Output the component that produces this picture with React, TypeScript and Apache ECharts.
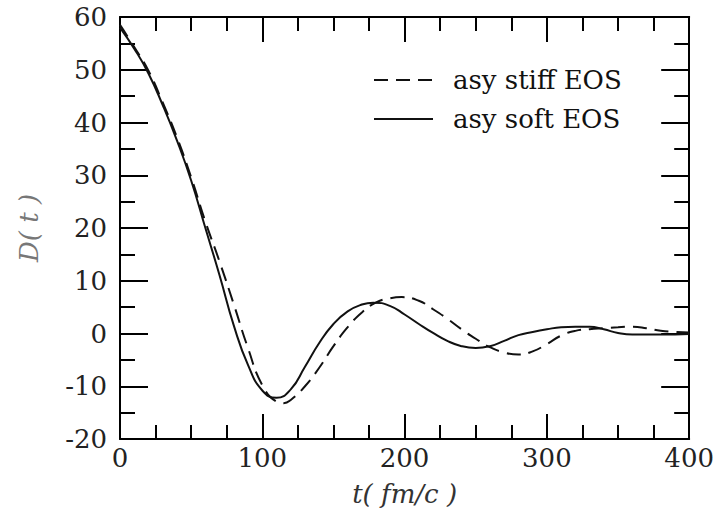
import React, { useEffect, useRef } from "react";
import * as echarts from "echarts";

const tStiff = [0, 10, 20, 30, 40, 50, 60, 70, 80, 90, 100, 110, 115, 120, 130, 140, 150, 160, 170, 180, 190, 198, 210, 220, 230, 240, 250, 260, 270, 280, 290, 300, 310, 320, 330, 340, 350, 360, 370, 380, 390, 400];
const dStiff = [58.5, 54.3, 49.8, 43.8, 37.2, 29.6, 21.2, 13.6, 5.5, -2.8, -9.8, -12.9, -13.2, -12.6, -10, -6.5, -2.4, 1.2, 4, 5.9, 6.7, 6.9, 6.2, 4.6, 2.8, 0.8, -1.0, -2.6, -3.6, -4.0, -3.4, -2.0, -0.4, 0.5, 0.8, 1.0, 1.2, 1.3, 1.0, 0.5, 0.3, 0.2];

const tSoft = [0, 10, 20, 30, 40, 50, 60, 70, 80, 90, 100, 110, 120, 130, 140, 150, 160, 170, 178, 190, 200, 210, 220, 230, 240, 250, 260, 270, 280, 290, 300, 310, 320, 330, 340, 350, 360, 380, 400];
const dSoft = [58, 54, 49.3, 43.3, 36.6, 29, 20, 11, 1.5, -6, -10.8, -12.2, -10.6, -6.3, -1.8, 1.8, 4.2, 5.5, 5.85, 5.2, 3.6, 1.8, 0.1, -1.4, -2.4, -2.75, -2.4, -1.4, -0.3, 0.3, 0.8, 1.2, 1.3, 1.3, 0.8, 0.1, -0.2, -0.2, -0.1];

const seriesNames = ["asy stiff EOS", "asy soft EOS"];
const xTitle = "t( fm/c )";
const yTitle = "D( t )";

const FONT = "DejaVu Serif";

export default function App() {
  const ref = useRef<HTMLDivElement>(null);
  useEffect(() => {
    if (!ref.current) return;
    const chart = echarts.init(ref.current, undefined, { renderer: "svg" });
    const axisLine = { show: true, onZero: false, lineStyle: { color: "#000", width: 2 } };
    const baseX = {
      type: "value",
      min: 0,
      max: 400,
      interval: 100,
      splitLine: { show: false },
      axisLine,
      axisTick: { show: true, inside: true, length: 25, lineStyle: { color: "#000", width: 2 } },
      minorTick: { show: true, splitNumber: 4, length: 14, lineStyle: { color: "#000", width: 2 } },
    };
    const baseY = {
      type: "value",
      min: -20,
      max: 60,
      interval: 10,
      splitLine: { show: false },
      axisLine,
      axisTick: { show: true, inside: true, length: 28, lineStyle: { color: "#000", width: 2 } },
      minorTick: { show: true, splitNumber: 2, length: 15, lineStyle: { color: "#000", width: 2 } },
    };
    const pairs = (ts: number[], ds: number[]) => ts.map((t, i) => [t, ds[i]]);
    chart.setOption({
      animation: false,
      backgroundColor: "#fff",
      grid: { left: 120, right: 27, top: 17, bottom: 71 },
      legend: {
        orient: "vertical",
        left: 368,
        top: 62,
        itemWidth: 59,
        itemHeight: 20,
        itemGap: 13,
        data: seriesNames,
        itemStyle: { opacity: 0 },
        textStyle: { fontFamily: FONT, fontSize: 26, color: "#111", lineHeight: 26, padding: [0, 0, 0, 15] },
      },
      xAxis: [
        {
          ...baseX,
          position: "bottom",
          axisLabel: { fontFamily: FONT, fontSize: 26, color: "#222", margin: 6 },
          name: xTitle,
          nameLocation: "middle",
          nameGap: 42,
          nameTextStyle: { fontFamily: FONT, fontSize: 26, fontStyle: "italic", color: "#333" },
        },
        { ...baseX, position: "top", axisLabel: { show: false } },
      ],
      yAxis: [
        {
          ...baseY,
          position: "left",
          axisLabel: { fontFamily: FONT, fontSize: 26, color: "#222", margin: 13 },
          name: yTitle,
          nameLocation: "middle",
          nameGap: 78,
          nameTextStyle: { fontFamily: FONT, fontSize: 26, fontStyle: "italic", color: "#777" },
        },
        { ...baseY, position: "right", axisLabel: { show: false } },
      ],
      series: [
        {
          name: seriesNames[0],
          type: "line",
          data: pairs(tStiff, dStiff),
          smooth: true,
          showSymbol: false,
          symbol: "none",
          lineStyle: { color: "#111", width: 2, type: [14, 8] },
          itemStyle: { color: "#111" },
        },
        {
          name: seriesNames[1],
          type: "line",
          data: pairs(tSoft, dSoft),
          smooth: true,
          showSymbol: false,
          symbol: "none",
          lineStyle: { color: "#111", width: 2 },
          itemStyle: { color: "#111" },
        },
      ],
    });
    return () => chart.dispose();
  }, []);
  return <div ref={ref} style={{ position: "fixed", left: 0, top: 0, width: 717, height: 512 }} />;
}
